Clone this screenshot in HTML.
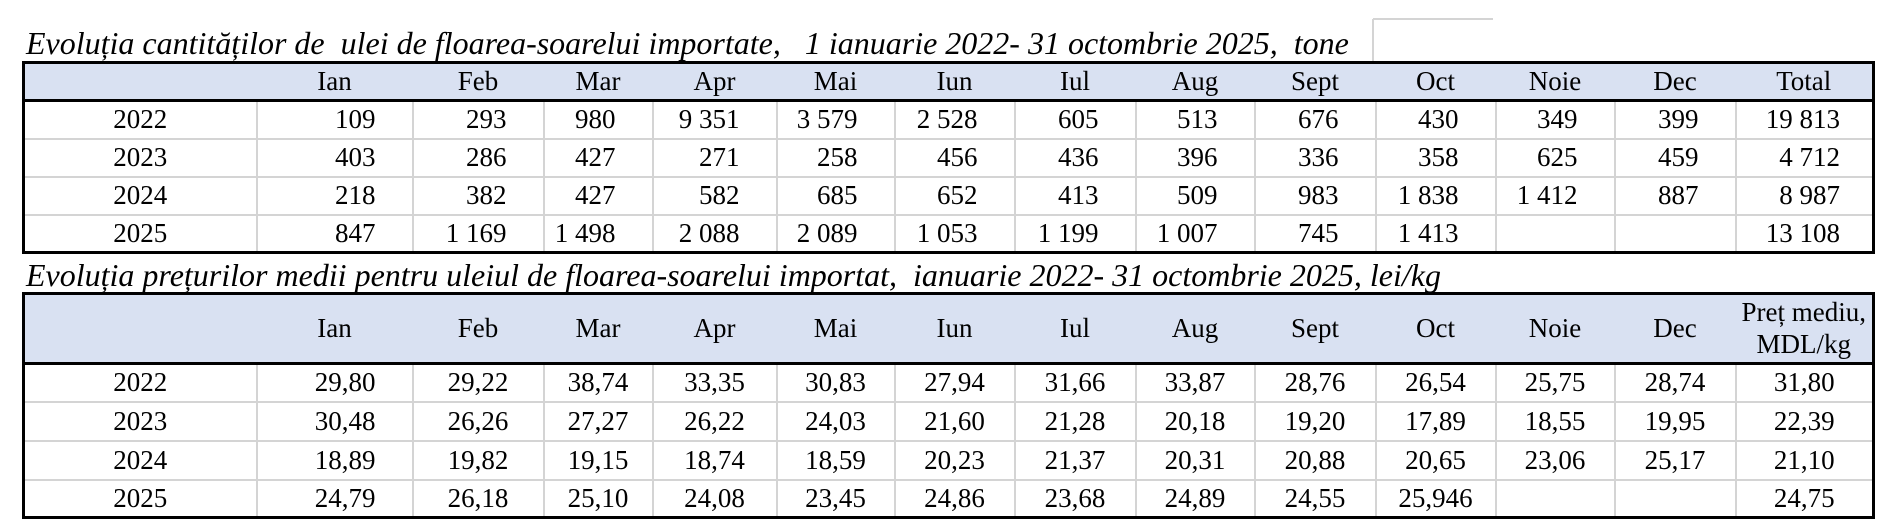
<!DOCTYPE html>
<html><head><meta charset="utf-8">
<style>
body{margin:0;width:1888px;height:530px;background:#fff;position:relative;overflow:hidden;font-family:"Liberation Serif",serif;color:#000}
.t{position:absolute;left:26px;font-style:italic;font-size:32px;white-space:pre;line-height:1;transform-origin:left top}
table{position:absolute;left:22px;border-collapse:collapse;table-layout:fixed;width:1850px;border:3px solid #000;font-size:27px}
td{border:2px solid #d4d4d4;padding:0;text-align:right;padding-right:36px;white-space:nowrap;line-height:1}
tr.h td{background:#d9e1f2;border-left:0;border-right:0;border-bottom:3px solid #000;text-align:center;padding-right:0}
td.y{text-align:center;padding-right:0}
#t2 td{text-align:center;padding-right:0}
#t2 td.r{text-align:right;padding-right:36px}
</style></head><body>
<div style="position:absolute;left:1373px;top:18px;width:120px;height:2px;background:#d4d4d4"></div>
<div style="position:absolute;left:1372px;top:19px;width:2px;height:42px;background:#d4d4d4"></div>
<div class="t" style="top:27px">Evoluția cantităților de  ulei de floarea-soarelui importate,   1 ianuarie 2022- 31 octombrie 2025,  tone</div>
<table id="t1" style="top:61px">
<colgroup><col style="width:233px"><col style="width:156px"><col style="width:131px"><col style="width:109px"><col style="width:124px"><col style="width:118px"><col style="width:120px"><col style="width:121px"><col style="width:119px"><col style="width:121px"><col style="width:120px"><col style="width:119px"><col style="width:121px"><col style="width:138px"></colgroup>
<tr class="h" style="height:38px"><td></td><td>Ian</td><td>Feb</td><td>Mar</td><td>Apr</td><td>Mai</td><td>Iun</td><td>Iul</td><td>Aug</td><td>Sept</td><td>Oct</td><td>Noie</td><td>Dec</td><td>Total</td></tr>
<tr style="height:38px"><td class="y">2022</td><td>109</td><td>293</td><td>980</td><td>9 351</td><td>3 579</td><td>2 528</td><td>605</td><td>513</td><td>676</td><td>430</td><td>349</td><td>399</td><td style="padding-right:32px">19 813</td></tr>
<tr style="height:38px"><td class="y">2023</td><td>403</td><td>286</td><td>427</td><td>271</td><td>258</td><td>456</td><td>436</td><td>396</td><td>336</td><td>358</td><td>625</td><td>459</td><td style="padding-right:32px">4 712</td></tr>
<tr style="height:38px"><td class="y">2024</td><td>218</td><td>382</td><td>427</td><td>582</td><td>685</td><td>652</td><td>413</td><td>509</td><td>983</td><td>1 838</td><td>1 412</td><td>887</td><td style="padding-right:32px">8 987</td></tr>
<tr style="height:38px"><td class="y">2025</td><td>847</td><td>1 169</td><td>1 498</td><td>2 088</td><td>2 089</td><td>1 053</td><td>1 199</td><td>1 007</td><td>745</td><td>1 413</td><td></td><td></td><td style="padding-right:32px">13 108</td></tr>
</table>
<div class="t" style="top:259px">Evoluția prețurilor medii pentru uleiul de floarea-soarelui importat,  ianuarie 2022- 31 octombrie 2025, lei/kg</div>
<table id="t2" style="top:292px">
<colgroup><col style="width:233px"><col style="width:156px"><col style="width:131px"><col style="width:109px"><col style="width:124px"><col style="width:118px"><col style="width:120px"><col style="width:121px"><col style="width:119px"><col style="width:121px"><col style="width:120px"><col style="width:119px"><col style="width:121px"><col style="width:138px"></colgroup>
<tr class="h" style="height:70px"><td></td><td>Ian</td><td>Feb</td><td>Mar</td><td>Apr</td><td>Mai</td><td>Iun</td><td>Iul</td><td>Aug</td><td>Sept</td><td>Oct</td><td>Noie</td><td>Dec</td><td style="line-height:1.15">Preț mediu,<br>MDL/kg</td></tr>
<tr style="height:38px"><td>2022</td><td class="r">29,80</td><td>29,22</td><td>38,74</td><td>33,35</td><td>30,83</td><td>27,94</td><td>31,66</td><td>33,87</td><td>28,76</td><td>26,54</td><td>25,75</td><td>28,74</td><td>31,80</td></tr>
<tr style="height:39px"><td>2023</td><td class="r">30,48</td><td>26,26</td><td>27,27</td><td>26,22</td><td>24,03</td><td>21,60</td><td>21,28</td><td>20,18</td><td>19,20</td><td>17,89</td><td>18,55</td><td>19,95</td><td>22,39</td></tr>
<tr style="height:39px"><td>2024</td><td class="r">18,89</td><td>19,82</td><td>19,15</td><td>18,74</td><td>18,59</td><td>20,23</td><td>21,37</td><td>20,31</td><td>20,88</td><td>20,65</td><td>23,06</td><td>25,17</td><td>21,10</td></tr>
<tr style="height:38px"><td>2025</td><td class="r">24,79</td><td>26,18</td><td>25,10</td><td>24,08</td><td>23,45</td><td>24,86</td><td>23,68</td><td>24,89</td><td>24,55</td><td>25,946</td><td></td><td></td><td>24,75</td></tr>
</table>
</body></html>
